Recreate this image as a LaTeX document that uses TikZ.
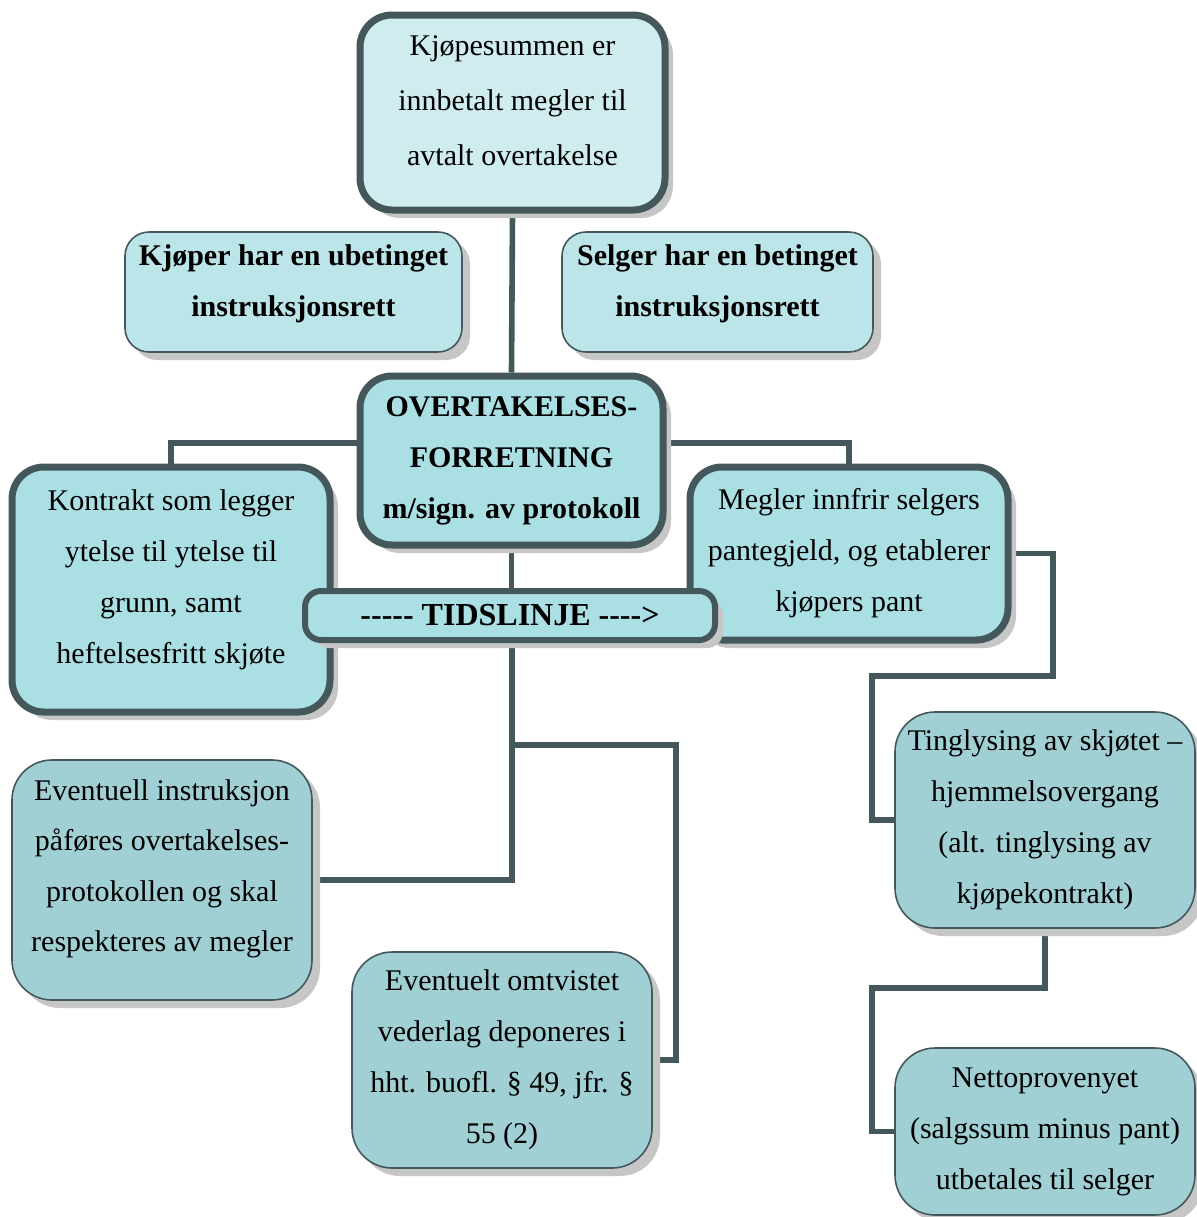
\documentclass[tikz,border=0pt]{standalone}
\usepackage{fontspec}
\setmainfont{Liberation Serif}
\usetikzlibrary{shadows,backgrounds}
\definecolor{edge}{HTML}{44585B}
\definecolor{palefill}{HTML}{CFECEE}
\definecolor{lightfill}{HTML}{BBE5E8}
\definecolor{midfill}{HTML}{AADFE3}
\definecolor{darkfill}{HTML}{A0D0D4}
\newcommand\hy{-\kern0pt}
\begin{document}
\begin{tikzpicture}[x=0.5pt,y=-0.5pt,
    box/.style={draw=edge,rounded corners=16pt,align=center,inner sep=0pt,
      font=\fontsize{15}{25.5}\selectfont,
      drop shadow={shadow xshift=4pt,shadow yshift=-4pt,fill=gray!45,opacity=1}},
    heavy/.style={box,line width=3.5pt,fill=midfill},
    light/.style={box,line width=0.8pt,rounded corners=20pt,fill=darkfill},
    link/.style={draw=edge,line width=2.8pt}]
  \useasboundingbox (0,0) rectangle (1197,1217);
  % Boxes
  \node[heavy,fill=palefill,minimum width=152.5pt,minimum height=97.5pt,text depth=12.3pt,
    font=\fontsize{15}{27.5}\selectfont] (top) at (512.5,112.5)
    {Kjøpesummen er\\innbetalt megler til\\avtalt overtakelse};
  \node[light,fill=lightfill,rounded corners=12pt,minimum width=168.5pt,text depth=11.3pt,
    minimum height=60pt,font=\bfseries\fontsize{15}{25.5}\selectfont] (kjoper) at (293.5,292)
    {Kjøper har en ubetinget\\instruksjonsrett};
  \node[light,fill=lightfill,rounded corners=12pt,minimum width=155.5pt,text depth=11.3pt,
    minimum height=60pt,font=\bfseries\fontsize{15}{25.5}\selectfont] (selger) at (717.5,292)
    {Selger har en betinget\\instruksjonsrett};
  \node[heavy,minimum width=151.5pt,minimum height=84.5pt,
    font=\bfseries\fontsize{15}{25.5}\selectfont] (ovt) at (511.5,460.5)
    {OVERTAKELSES-\\FORRETNING\\m/sign. av protokoll};
  \node[heavy,minimum width=159pt,minimum height=122.5pt,text depth=13.3pt] (kontrakt) at (171,589.5)
    {Kontrakt som legger\\ytelse til ytelse til\\grunn, samt\\heftelsesfritt skjøte};
  \node[heavy,minimum width=159pt,minimum height=86.5pt] (megler) at (849,553.5)
    {Megler innfrir selgers\\pantegjeld, og etablerer\\kjøpers pant};
  \node[heavy,line width=3pt,rounded corners=8pt,minimum width=205pt,minimum height=24.5pt,
    font=\bfseries\fontsize{16}{18}\selectfont] (tid) at (510,615.5)
    {\hy\hy\hy\hy\hy{} TIDSLINJE \hy\hy\hy\hy>};
  \node[light,minimum width=150pt,minimum height=120pt,text depth=14.3pt,
    font=\fontsize{15}{25.2}\selectfont] (eventuell) at (162,880)
    {Eventuell instruksjon\\påføres overtakelses-\\protokollen og skal\\respekteres av megler};
  \node[light,minimum width=150pt,minimum height=108pt] (omtvist) at (502,1060)
    {Eventuelt omtvistet\\vederlag deponeres i\\hht. buofl. § 49, jfr. §\\55 (2)};
  \node[light,minimum width=150pt,minimum height=108pt] (ting) at (1045,820)
    {Tinglysing av skjøtet –\\hjemmelsovergang\\(alt. tinglysing av\\kjøpekontrakt)};
  \node[light,minimum width=150pt,minimum height=83.5pt] (netto) at (1045,1131.5)
    {Nettoprovenyet\\(salgssum minus pant)\\utbetales til selger};
  % Lines
  \coordinate (fork) at (512,745);
  \coordinate (m1) at (1053,676);
  \coordinate (t1) at (1045,988);
  \begin{scope}[on background layer]
    \draw[link] (top.south) -- (ovt.north);
    \draw[link] ([yshift=8.75pt]ovt.west) -| (kontrakt.north);
    \draw[link] ([yshift=8.75pt]ovt.east) -| (megler.north);
    \draw[link] (ovt.south) -- (ovt.south |- tid.north);
    \draw[link] (tid.south -| fork) -- (fork |- eventuell.east) -- (eventuell.east);
    \draw[link] (fork) -| ([xshift=11.5pt]omtvist.east) -- (omtvist.east);
    \draw[link] (megler.east) -| (m1) -| ([xshift=-11pt]ting.west) -- (ting.west);
    \draw[link] (ting.south) -- (t1) -| ([xshift=-11pt]netto.west) -- (netto.west);
  \end{scope}
\end{tikzpicture}
\end{document}
